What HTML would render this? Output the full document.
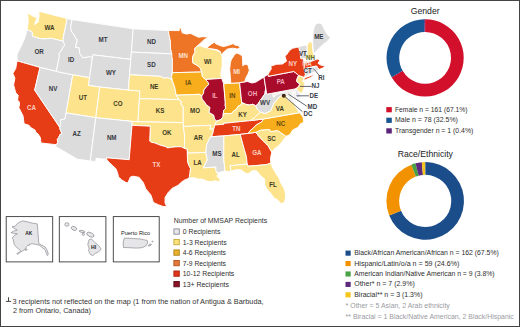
<!DOCTYPE html>
<html><head><meta charset="utf-8"><style>
html,body{margin:0;padding:0;background:#fff;}
body{width:520px;height:327px;position:relative;overflow:hidden;font-family:"Liberation Sans",sans-serif;}
svg{position:absolute;left:0;top:0;font-family:"Liberation Sans",sans-serif;}
</style></head><body>
<svg width="520" height="327" viewBox="0 0 520 327">
<g stroke="#fff" stroke-width="0.95" stroke-linejoin="round">
<path d="M27.8,12.8 L32.9,16.2 L37.1,17.8 L34.4,24.6 L38.1,22.1 L39.1,16.0 L38.8,11.2 L67.2,18.6 L63.2,37.9 L63.1,41.2 L52.3,38.6 L49.1,38.4 L44.0,38.9 L40.2,38.7 L36.0,37.5 L32.2,36.0 L32.4,32.4 L30.0,30.9 L27.1,29.6 L27.9,24.7 L28.2,21.5 L27.9,16.6Z" fill="#fce38c"/>
<path d="M27.1,29.6 L30.0,30.9 L32.4,32.4 L32.2,36.0 L36.0,37.5 L40.2,38.7 L44.0,38.9 L49.1,38.4 L52.3,38.6 L63.1,41.2 L64.8,45.0 L63.3,46.8 L61.7,50.0 L59.0,53.7 L59.4,56.2 L56.3,71.4 L40.0,67.4 L17.2,60.9 L17.0,54.4 L18.8,50.9 L22.9,42.5 L25.7,35.3Z" fill="#dcdcdd"/>
<path d="M17.2,60.9 L40.0,67.4 L34.7,90.1 L59.9,127.5 L60.0,129.1 L61.9,133.6 L59.8,134.7 L58.8,137.5 L57.3,139.6 L57.9,142.6 L56.2,144.7 L41.1,143.0 L40.7,140.8 L40.4,137.6 L38.0,133.9 L35.8,132.2 L35.0,130.0 L31.0,127.8 L29.0,125.3 L24.0,123.7 L23.6,120.0 L23.0,115.8 L18.8,107.5 L19.4,105.2 L19.5,102.4 L17.6,99.9 L18.2,95.2 L15.8,92.9 L13.6,85.0 L14.9,78.1 L12.9,73.4 L15.7,68.6 L16.8,62.4Z" fill="#e63d17"/>
<path d="M40.0,67.4 L56.3,71.4 L72.8,74.8 L65.0,119.1 L60.6,119.8 L60.5,123.7 L59.9,127.5 L34.7,90.1Z" fill="#dcdcdd"/>
<path d="M67.2,18.6 L72.1,19.6 L70.6,27.3 L71.6,31.9 L73.4,33.6 L76.2,38.9 L77.4,39.5 L75.5,47.3 L79.0,47.6 L79.8,53.7 L82.8,57.8 L90.8,56.4 L92.3,58.6 L89.5,77.7 L72.8,74.8 L56.3,71.4 L59.4,56.2 L59.0,53.7 L61.7,50.0 L63.3,46.8 L64.8,45.0 L63.1,41.2 L63.2,37.9Z" fill="#dcdcdd"/>
<path d="M72.1,19.6 L133.2,28.8 L131.4,52.1 L130.8,59.4 L92.9,54.8 L92.3,58.6 L90.8,56.4 L82.8,57.8 L79.8,53.7 L79.0,47.6 L75.5,47.3 L77.4,39.5 L76.2,38.9 L73.4,33.6 L71.6,31.9 L70.6,27.3Z" fill="#dcdcdd"/>
<path d="M92.9,54.8 L130.8,59.4 L129.6,74.7 L128.3,90.1 L99.7,87.0 L88.4,85.4 L89.5,77.7 L92.3,58.6Z" fill="#dcdcdd"/>
<path d="M72.8,74.8 L89.5,77.7 L88.4,85.4 L99.7,87.0 L95.8,117.7 L66.1,112.9Z" fill="#fce38c"/>
<path d="M99.7,87.0 L128.3,90.1 L139.9,90.9 L139.4,98.7 L138.0,121.8 L132.2,121.4 L95.8,117.7Z" fill="#fce38c"/>
<path d="M66.1,112.9 L95.8,117.7 L90.3,161.0 L77.4,159.2 L55.3,146.3 L56.2,144.7 L57.9,142.6 L57.3,139.6 L58.8,137.5 L59.8,134.7 L61.9,133.6 L60.0,129.1 L59.9,127.5 L60.5,123.7 L60.6,119.8 L65.0,119.1Z" fill="#dcdcdd"/>
<path d="M95.8,117.7 L132.2,121.4 L132.0,125.3 L129.2,159.7 L106.4,157.8 L106.8,159.5 L96.1,158.3 L95.7,161.7 L90.3,161.0Z" fill="#dcdcdd"/>
<path d="M133.2,28.8 L168.5,30.5 L168.9,34.4 L170.4,41.2 L170.6,48.9 L171.9,53.9 L131.4,52.1Z" fill="#dcdcdd"/>
<path d="M131.4,52.1 L171.9,53.9 L171.8,56.5 L172.4,58.9 L172.4,72.7 L171.5,76.5 L172.3,80.5 L169.2,78.3 L166.4,77.6 L163.6,78.2 L160.8,76.4 L129.6,74.7 L130.8,59.4Z" fill="#dcdcdd"/>
<path d="M129.6,74.7 L160.8,76.4 L163.6,78.2 L166.4,77.6 L169.2,78.3 L172.3,80.5 L173.7,84.2 L174.9,88.1 L175.6,91.9 L176.2,95.2 L178.9,99.6 L139.4,98.7 L139.9,90.9 L128.3,90.1Z" fill="#fce38c"/>
<path d="M139.4,98.7 L178.9,99.6 L181.4,101.5 L181.1,103.4 L181.7,105.7 L183.2,106.5 L183.3,122.6 L138.0,121.8Z" fill="#fce38c"/>
<path d="M132.2,121.4 L138.0,121.8 L183.3,122.6 L183.3,126.5 L184.6,134.9 L184.5,148.4 L181.2,146.8 L178.0,146.7 L174.8,146.9 L171.0,147.3 L167.8,147.9 L165.3,146.5 L162.1,145.7 L158.4,144.5 L154.7,142.9 L151.5,142.4 L149.7,141.1 L150.3,126.2 L132.0,125.3Z" fill="#fce38c"/>
<path d="M132.0,125.3 L150.3,126.2 L149.7,141.1 L151.5,142.4 L154.7,142.9 L158.4,144.5 L162.1,145.7 L165.3,146.5 L167.8,147.9 L171.0,147.3 L174.8,146.9 L178.0,146.7 L181.2,146.8 L184.5,148.4 L187.3,149.0 L187.4,153.2 L187.5,160.8 L188.5,164.6 L190.5,168.3 L190.0,173.7 L189.1,178.3 L184.7,179.9 L181.4,182.2 L178.1,185.3 L172.0,188.4 L167.9,192.9 L165.1,197.4 L165.0,202.7 L166.7,206.7 L162.9,206.4 L158.8,204.9 L153.4,202.5 L150.9,195.0 L145.7,188.7 L143.3,182.6 L139.0,177.3 L133.1,176.2 L130.4,177.0 L128.0,182.6 L126.0,182.6 L121.6,179.8 L118.5,176.9 L117.5,172.6 L115.9,168.7 L112.3,165.3 L108.7,161.9 L106.8,159.5 L106.4,157.8 L129.2,159.7Z" fill="#e63d17"/>
<path d="M168.5,30.5 L179.3,30.6 L179.3,27.7 L181.1,28.3 L182.2,32.8 L186.4,34.1 L190.6,33.4 L192.7,34.5 L198.7,37.3 L202.3,36.7 L208.7,37.1 L204.1,39.7 L199.0,44.5 L195.9,47.3 L194.9,48.1 L195.0,52.3 L192.7,56.6 L192.6,62.8 L197.1,65.3 L200.3,68.2 L201.8,72.0 L172.4,72.7 L172.4,58.9 L171.8,56.5 L171.9,53.9 L170.6,48.9 L170.4,41.2 L168.9,34.4 L168.5,30.5Z" fill="#ee7426"/>
<path d="M172.4,72.7 L201.8,72.0 L202.4,76.6 L205.5,79.5 L208.2,82.4 L208.6,84.7 L206.1,87.1 L203.9,90.0 L203.5,93.4 L201.7,96.0 L199.8,94.3 L176.2,95.2 L175.6,91.9 L174.9,88.1 L173.7,84.2 L172.3,80.5 L171.5,76.5Z" fill="#f8ae1c"/>
<path d="M176.2,95.2 L199.8,94.3 L201.7,96.0 L202.0,98.9 L204.5,101.9 L206.4,104.8 L209.9,107.3 L209.7,109.3 L209.0,112.4 L213.7,115.1 L214.5,118.9 L216.7,121.1 L214.9,125.0 L213.7,129.0 L209.7,129.2 L210.9,125.3 L183.3,126.5 L183.3,122.6 L183.2,106.5 L181.7,105.7 L181.1,103.4 L181.4,101.5 L178.9,99.6Z" fill="#fce38c"/>
<path d="M183.3,126.5 L210.9,125.3 L209.7,129.2 L213.7,129.0 L212.9,132.9 L211.8,136.0 L210.6,136.8 L208.9,140.0 L206.6,144.8 L205.9,152.4 L187.4,153.2 L187.3,149.0 L184.5,148.4 L184.6,134.9Z" fill="#fce38c"/>
<path d="M187.4,153.2 L205.9,152.4 L206.5,156.2 L207.3,160.0 L203.4,167.8 L216.0,167.0 L215.7,170.1 L217.2,173.1 L218.6,174.0 L216.7,176.1 L220.3,179.6 L219.1,181.9 L215.0,180.7 L211.7,181.7 L206.9,181.2 L202.8,179.2 L198.1,179.0 L192.7,177.5 L189.1,178.3 L190.0,173.7 L190.5,168.3 L188.5,164.6 L187.5,160.8Z" fill="#fce38c"/>
<path d="M205.5,79.5 L221.7,78.4 L220.8,74.5 L221.5,69.1 L222.3,65.2 L222.1,60.0 L222.1,56.5 L221.7,54.7 L220.3,51.9 L216.5,50.4 L212.9,49.4 L209.5,48.6 L207.3,47.9 L204.7,47.6 L200.1,45.7 L196.5,46.6 L195.9,47.3 L194.9,48.1 L195.0,52.3 L192.7,56.6 L192.6,62.8 L197.1,65.3 L200.3,68.2 L201.8,72.0 L202.4,76.6 L205.5,79.5Z" fill="#fce38c"/>
<path d="M205.5,79.5 L221.7,78.4 L223.7,83.8 L225.3,102.3 L225.2,105.8 L225.9,108.0 L223.7,110.5 L223.2,114.4 L223.0,116.7 L221.0,119.6 L216.7,121.1 L214.5,118.9 L213.7,115.1 L209.0,112.4 L209.7,109.3 L209.9,107.3 L206.4,104.8 L204.5,101.9 L202.0,98.9 L201.7,96.0 L203.5,93.4 L203.9,90.0 L206.1,87.1 L208.6,84.7 L208.2,82.4 L205.5,79.5Z" fill="#a90b2b"/>
<path d="M223.7,83.8 L227.8,83.5 L239.6,82.7 L241.7,102.5 L241.4,104.8 L238.5,105.9 L236.4,109.3 L233.5,111.1 L231.9,113.2 L228.9,113.9 L225.8,113.4 L223.2,114.4 L223.7,110.5 L225.9,108.0 L225.2,105.8 L225.3,102.3Z" fill="#f8ae1c"/>
<path d="M239.6,82.7 L247.4,81.5 L252.0,83.0 L256.0,82.1 L259.2,80.0 L264.0,77.1 L265.6,87.3 L265.5,89.9 L264.9,93.9 L261.9,98.2 L259.9,100.9 L257.9,104.2 L255.7,105.9 L253.0,104.2 L249.4,105.0 L245.7,104.3 L241.7,102.5Z" fill="#a90b2b"/>
<path d="M236.2,53.0 L239.0,53.8 L242.2,55.8 L242.6,60.0 L242.8,65.8 L244.5,64.6 L246.4,64.3 L248.1,65.4 L249.3,70.3 L248.4,73.0 L247.6,74.8 L246.0,77.5 L245.4,79.5 L245.0,81.7 L239.6,82.7 L230.8,83.3 L230.3,76.8 L229.7,69.3 L230.3,62.8 L231.4,59.6 L234.0,55.4Z" fill="#ee7426"/>
<path d="M207.4,47.2 L211.2,44.2 L214.3,42.3 L216.0,43.8 L219.9,45.5 L223.4,46.6 L228.5,45.3 L233.3,43.6 L234.6,45.0 L238.1,45.4 L240.3,48.1 L237.2,49.0 L232.9,48.2 L227.7,49.0 L225.1,50.7 L222.5,53.3 L221.6,55.5 L220.3,51.6 L217.3,49.8 L213.0,49.0 L208.7,48.5Z" fill="#ee7426"/>
<path d="M216.7,121.1 L214.9,125.0 L223.9,124.3 L223.7,123.0 L225.0,123.2 L250.8,120.6 L254.7,117.4 L257.5,114.7 L260.4,112.1 L257.3,109.0 L255.7,105.9 L255.7,105.9 L253.0,104.2 L249.4,105.0 L245.7,104.3 L241.7,102.5 L241.4,104.8 L238.5,105.9 L236.4,109.3 L233.5,111.1 L231.9,113.2 L228.9,113.9 L225.8,113.4 L223.2,114.4 L223.0,116.7 L221.0,119.6 L216.7,121.1Z" fill="#fce38c"/>
<path d="M210.6,136.8 L223.8,135.9 L240.2,134.4 L248.3,133.4 L250.0,130.8 L252.9,128.5 L256.3,124.9 L259.3,123.3 L262.2,121.4 L263.2,119.0 L250.8,120.6 L225.0,123.2 L223.7,123.0 L223.9,124.3 L214.9,125.0 L213.7,129.0 L212.9,132.9 L211.8,136.0Z" fill="#e63d17"/>
<path d="M210.6,136.8 L208.9,140.0 L206.6,144.8 L205.9,152.4 L206.5,156.2 L207.3,160.0 L203.4,167.8 L216.0,167.0 L215.7,170.1 L217.2,173.1 L225.1,170.9 L223.8,159.5 L223.9,136.6 L223.8,135.9Z" fill="#dcdcdd"/>
<path d="M223.8,135.9 L240.2,134.4 L244.4,149.8 L246.4,156.5 L247.2,164.0 L230.1,165.8 L231.2,171.0 L227.9,171.7 L225.1,170.9 L223.8,159.5 L223.9,136.6Z" fill="#fce38c"/>
<path d="M240.2,134.4 L248.3,133.4 L256.0,132.3 L258.4,135.8 L262.9,140.5 L268.2,145.8 L271.8,152.2 L270.6,157.7 L270.7,163.1 L267.5,164.3 L266.2,164.7 L248.2,166.2 L247.2,164.0 L246.4,156.5 L244.4,149.8Z" fill="#e63d17"/>
<path d="M230.1,165.8 L247.2,164.0 L248.2,166.2 L266.2,164.7 L267.5,164.3 L270.7,163.1 L272.8,168.1 L275.6,172.9 L279.2,178.4 L280.4,182.0 L284.3,188.9 L285.2,192.5 L285.7,197.7 L284.3,202.4 L280.8,203.7 L278.2,200.4 L273.5,197.4 L270.8,193.3 L266.6,188.7 L264.7,184.4 L264.7,179.1 L260.8,175.9 L256.8,171.1 L252.7,170.5 L248.3,173.7 L245.5,173.3 L241.1,170.0 L237.7,169.6 L231.2,171.0Z" fill="#fce38c"/>
<path d="M256.0,132.3 L258.4,135.8 L262.9,140.5 L268.2,145.8 L271.8,152.2 L274.6,148.7 L278.8,145.7 L282.7,141.1 L286.2,136.3 L277.6,130.5 L270.7,131.6 L269.7,129.5 L260.8,130.0 L256.0,132.3Z" fill="#fce38c"/>
<path d="M248.3,133.4 L256.0,132.3 L260.8,130.0 L269.7,129.5 L270.7,131.6 L277.6,130.5 L286.2,136.3 L290.1,134.4 L292.6,130.0 L298.0,127.4 L300.5,123.8 L303.8,122.3 L303.1,117.1 L299.6,112.7 L263.2,119.0 L262.2,121.4 L259.3,123.3 L256.3,124.9 L252.9,128.5 L250.0,130.8Z" fill="#f8ae1c"/>
<path d="M299.1,112.8 L263.2,119.0 L250.8,120.6 L254.7,117.4 L257.5,114.7 L260.4,112.1 L260.4,112.1 L265.4,113.5 L270.6,110.8 L272.0,107.5 L273.8,103.3 L276.9,99.6 L279.5,96.8 L283.9,94.3 L285.5,96.1 L288.2,96.8 L288.0,99.1 L289.6,101.1 L294.3,102.5 L295.1,106.3 L297.6,109.6 L297.8,110.4Z" fill="#fce38c"/>
<path d="M265.6,87.3 L266.7,94.2 L272.9,93.2 L273.5,97.1 L276.1,94.7 L279.4,93.0 L283.0,92.3 L283.9,94.3 L279.5,96.8 L276.9,99.6 L273.8,103.3 L272.0,107.5 L270.6,110.8 L265.4,113.5 L260.4,112.1 L257.3,109.0 L255.7,105.9 L257.9,104.2 L259.9,100.9 L261.9,98.2 L264.9,93.9 L265.5,89.9Z" fill="#dcdcdd"/>
<path d="M272.9,93.2 L294.7,89.0 L296.7,98.5 L301.1,97.6 L300.7,101.2 L298.3,102.1 L295.7,99.9 L293.7,96.4 L293.2,91.1 L291.7,96.1 L293.2,100.4 L294.3,102.5 L289.6,101.1 L288.0,99.1 L288.2,96.8 L285.5,96.1 L283.9,94.3 L283.0,92.3 L279.4,93.0 L276.1,94.7 L273.5,97.1Z" fill="#f0eee6"/>
<path d="M294.7,89.0 L296.9,88.0 L296.6,89.6 L300.6,95.0 L301.1,97.6 L296.7,98.5Z" fill="#e4e6ec"/>
<path d="M264.0,77.0 L268.0,74.2 L268.4,76.3 L293.7,71.5 L295.5,72.7 L298.5,75.4 L296.9,79.4 L296.8,81.7 L300.1,84.2 L298.4,86.5 L296.9,88.0 L294.7,89.0 L266.7,94.2Z" fill="#a90b2b"/>
<path d="M298.5,75.4 L303.7,77.1 L303.7,79.5 L302.5,81.3 L304.2,81.7 L304.5,84.7 L303.9,88.8 L301.3,93.8 L296.6,89.6 L296.9,88.0 L298.4,86.5 L300.1,84.2 L296.8,81.7 L296.9,79.4Z" fill="#fce38c"/>
<path d="M268.4,76.3 L293.7,71.5 L295.5,72.7 L298.5,75.4 L303.7,77.1 L304.9,76.8 L305.0,76.0 L305.5,74.3 L304.2,68.7 L304.4,63.2 L302.6,57.0 L301.4,54.1 L299.9,46.6 L292.5,48.3 L289.5,50.5 L286.4,55.0 L284.9,56.1 L286.5,61.2 L282.4,64.0 L276.6,64.3 L270.8,66.1 L271.3,68.8 L268.0,74.2Z" fill="#e63d17"/>
<path d="M303.8,80.2 L305.0,79.9 L310.6,77.5 L315.2,74.0 L312.4,75.0 L306.2,77.3 L304.1,78.6Z" fill="#e63d17"/>
<path d="M298.4,46.6 L303.0,45.6 L307.2,45.0 L307.2,52.0 L307.0,58.4 L300.8,58.8 L300.2,53.0 L299.0,48.5Z" fill="#dcdcdd"/>
<path d="M309.0,42.2 L310.4,41.4 L312.5,44.0 L312.8,50.0 L313.6,54.5 L314.2,57.6 L311.5,58.3 L307.0,58.4 L307.2,52.0 L307.2,45.0Z" fill="#fce38c"/>
<path d="M313.6,54.0 L312.8,45.0 L312.5,38.0 L313.3,31.0 L314.2,27.0 L316.0,23.8 L318.2,23.0 L321.3,23.4 L323.3,27.0 L325.5,31.5 L327.5,34.5 L330.6,37.8 L327.0,41.6 L323.0,44.5 L319.8,47.8 L316.5,50.8Z" fill="#dcdcdd"/>
<path d="M304.2,68.7 L304.4,63.2 L308.9,62.3 L316.9,59.2 L318.1,58.9 L319.7,60.6 L318.0,63.4 L320.9,65.1 L324.8,66.0 L324.2,63.8 L325.2,66.3 L322.4,68.2 L319.0,69.5 L316.4,66.0 L314.0,66.6Z" fill="#e63d17"/>
<path d="M314.0,66.6 L316.4,66.0 L319.0,69.5 L315.0,71.8Z" fill="#dcdcdd"/>
<path d="M304.2,68.7 L314.0,66.6 L315.0,71.8 L311.4,73.2 L308.1,74.9 L305.2,76.8 L305.0,76.0 L305.5,74.3Z" fill="#dcdcdd"/>
</g>
<text x="410.8" y="14.4" font-size="9" fill="#222" textLength="28.8" lengthAdjust="spacingAndGlyphs">Gender</text>
<path d="M425.10,19.25 A38.6,38.6 0 1 1 391.67,77.15 L402.67,70.80 A25.9,25.9 0 1 0 425.10,31.95Z" fill="#d2102c"/>
<path d="M391.67,77.15 A38.6,38.6 0 0 1 424.09,19.26 L424.42,31.96 A25.9,25.9 0 0 0 402.67,70.80Z" fill="#1a5593"/>
<path d="M424.09,19.26 A38.6,38.6 0 0 1 425.10,19.25 L425.10,31.95 A25.9,25.9 0 0 0 424.42,31.96Z" fill="#5b2379"/>
<rect x="386.3" y="107.10" width="5.5" height="5.2" fill="#d2102c"/>
<text x="395" y="111.7" font-size="6.9" fill="#2e2e2e" textLength="72.5" lengthAdjust="spacingAndGlyphs">Female n = 161 (67.1%)</text>
<rect x="386.3" y="117.70" width="5.5" height="5.2" fill="#1a5593"/>
<text x="395" y="122.3" font-size="6.9" fill="#2e2e2e" textLength="62.9" lengthAdjust="spacingAndGlyphs">Male n = 78 (32.5%)</text>
<rect x="386.3" y="128.30" width="5.5" height="5.2" fill="#5b2379"/>
<text x="395" y="132.9" font-size="6.9" fill="#2e2e2e" textLength="78.3" lengthAdjust="spacingAndGlyphs">Transgender n = 1 (0.4%)</text>
<text x="397.7" y="157.2" font-size="9" fill="#222" textLength="55.2" lengthAdjust="spacingAndGlyphs">Race/Ethnicity</text>
<path d="M425.88,162.11 A38.8,38.8 0 1 1 389.23,215.43 L401.00,210.68 A26.1,26.1 0 1 0 425.66,174.80Z" fill="#1b4d8a"/>
<path d="M389.23,215.43 A38.8,38.8 0 0 1 411.30,164.68 L415.85,176.53 A26.1,26.1 0 0 0 401.00,210.68Z" fill="#f39200"/>
<path d="M411.30,164.68 A38.8,38.8 0 0 1 415.49,163.34 L418.67,175.63 A26.1,26.1 0 0 0 415.85,176.53Z" fill="#4ba146"/>
<path d="M415.49,163.34 A38.8,38.8 0 0 1 421.82,162.25 L422.93,174.90 A26.1,26.1 0 0 0 418.67,175.63Z" fill="#5e2a7e"/>
<path d="M421.82,162.25 A38.8,38.8 0 0 1 425.20,162.10 L425.20,174.80 A26.1,26.1 0 0 0 422.93,174.90Z" fill="#f6c51b"/>
<path d="M425.20,162.10 A38.8,38.8 0 0 1 425.88,162.11 L425.66,174.80 A26.1,26.1 0 0 0 425.20,174.80Z" fill="#1b4d8a"/>
<rect x="345.5" y="250.60" width="5.2" height="5.1" fill="#1b4d8a"/>
<text x="354.2" y="255.2" font-size="6.9" fill="#2e2e2e" textLength="144.6" lengthAdjust="spacingAndGlyphs">Black/African American/African n = 162 (67.5%)</text>
<rect x="345.5" y="261.02" width="5.2" height="5.1" fill="#f39200"/>
<text x="354.2" y="265.62" font-size="6.9" fill="#2e2e2e" textLength="105.2" lengthAdjust="spacingAndGlyphs">Hispanic/Latin/o/a n = 59 (24.6%)</text>
<rect x="345.5" y="271.44" width="5.2" height="5.1" fill="#4ba146"/>
<text x="354.2" y="276.04" font-size="6.9" fill="#2e2e2e" textLength="140.4" lengthAdjust="spacingAndGlyphs">American Indian/Native American n = 9 (3.8%)</text>
<rect x="345.5" y="281.86" width="5.2" height="5.1" fill="#5e2a7e"/>
<text x="354.2" y="286.46" font-size="6.9" fill="#2e2e2e" textLength="60.6" lengthAdjust="spacingAndGlyphs">Other* n = 7 (2.9%)</text>
<rect x="345.5" y="292.28" width="5.2" height="5.1" fill="#f6c51b"/>
<text x="354.2" y="296.88" font-size="6.9" fill="#2e2e2e" textLength="68.3" lengthAdjust="spacingAndGlyphs">Biracial** n = 3 (1.3%)</text>
<text x="345.6" y="307.9" font-size="6.9" fill="#9a9aa2" textLength="104.2" lengthAdjust="spacingAndGlyphs">* Other = 5 Asian, 2 Arab ethnicity</text>
<text x="345.6" y="318.5" font-size="6.9" fill="#9a9aa2" textLength="168.2" lengthAdjust="spacingAndGlyphs">** Biracial = 1 Black/Native American, 2 Black/Hispanic</text>
<text x="173.8" y="223" font-size="6.9" fill="#333" textLength="93.3" lengthAdjust="spacingAndGlyphs">Number of MMSAP Recipients</text>
<rect x="173.9" y="228.90" width="5.4" height="5.3" fill="#e6e6ec" stroke="#8a8a94" stroke-width="0.9"/>
<text x="182.8" y="234.0" font-size="6.9" fill="#2e2e2e" textLength="37.5" lengthAdjust="spacingAndGlyphs">0 Recipients</text>
<rect x="173.9" y="239.42" width="5.4" height="5.3" fill="#fae07a" stroke="#c9a83a" stroke-width="0.9"/>
<text x="182.8" y="244.52" font-size="6.9" fill="#2e2e2e" textLength="43.8" lengthAdjust="spacingAndGlyphs">1-3 Recipients</text>
<rect x="173.9" y="249.94" width="5.4" height="5.3" fill="#e9b22c" stroke="#b07e1a" stroke-width="0.9"/>
<text x="182.8" y="255.04" font-size="6.9" fill="#2e2e2e" textLength="43.1" lengthAdjust="spacingAndGlyphs">4-6 Recipients</text>
<rect x="173.9" y="260.46" width="5.4" height="5.3" fill="#e6793a" stroke="#b05420" stroke-width="0.9"/>
<text x="182.8" y="265.56" font-size="6.9" fill="#2e2e2e" textLength="43.1" lengthAdjust="spacingAndGlyphs">7-9 Recipients</text>
<rect x="173.9" y="270.98" width="5.4" height="5.3" fill="#e0351c" stroke="#a82410" stroke-width="0.9"/>
<text x="182.8" y="276.08" font-size="6.9" fill="#2e2e2e" textLength="51.5" lengthAdjust="spacingAndGlyphs">10-12 Recipients</text>
<rect x="173.9" y="281.50" width="5.4" height="5.3" fill="#8c1426" stroke="#5a0a16" stroke-width="0.9"/>
<text x="182.8" y="286.6" font-size="6.9" fill="#2e2e2e" textLength="46.1" lengthAdjust="spacingAndGlyphs">13+ Recipients</text>
<path d="M8.5,297.2 V301.4 M5.9,301.4 H11.1" stroke="#333" stroke-width="0.9" fill="none"/>
<text x="12.4" y="303.7" font-size="7.3" fill="#333" textLength="251.2" lengthAdjust="spacingAndGlyphs">3 recipients not reflected on the map (1 from the nation of Antigua &amp; Barbuda,</text>
<text x="12.9" y="312.5" font-size="7.3" fill="#333" textLength="78" lengthAdjust="spacingAndGlyphs">2 from Ontario, Canada)</text>
<rect x="6.2" y="216.6" width="46.5" height="45.3" fill="none" stroke="#3a3a3a" stroke-width="0.9"/>
<rect x="59.3" y="216.6" width="46.6" height="45.3" fill="none" stroke="#3a3a3a" stroke-width="0.9"/>
<rect x="113.3" y="216.6" width="45.9" height="45.3" fill="none" stroke="#3a3a3a" stroke-width="0.9"/>
<path d="M12.0,226.8 L15.3,226.1 L16.1,225.0 L18.3,222.8 L22.7,220.9 L27.1,221.7 L32.2,223.1 L37.3,223.9 L38.8,243.5 L41.8,245.3 L45.2,247.0 L47.3,250.4 L48.3,254.2 L47.4,255.6 L46.3,253.2 L45.1,249.8 L42.3,247.6 L39.3,245.2 L35.5,244.3 L32.5,243.8 L29.5,244.2 L29.2,245.5 L28.0,245.0 L26.3,246.8 L25.2,249.2 L22.5,251.0 L19.8,252.6 L17.4,254.4 L16.8,253.6 L18.4,252.8 L20.8,251.0 L19.6,249.6 L16.5,247.3 L14.3,244.6 L13.1,239.4 L12.4,237.8 L14.2,235.5 L17.5,233.8 L13.8,233.3 L10.9,232.7 L13.5,231.2 L17.2,230.1 L14.5,228.5Z" fill="#e6e6e8" stroke="#85858c" stroke-width="0.65" stroke-linejoin="round"/>
<ellipse cx="26" cy="249.6" rx="1.1" ry="0.8" fill="#e6e6e8" stroke="#85858c" stroke-width="0.65" stroke-linejoin="round"/>
<text x="28.7" y="234.6" font-size="6" fill="#222" textLength="7" lengthAdjust="spacingAndGlyphs" text-anchor="middle" font-weight="bold">AK</text>
<g fill="#e6e6e8" stroke="#85858c" stroke-width="0.65" stroke-linejoin="round"><ellipse cx="66.9" cy="224.5" rx="2.1" ry="1.8"/><ellipse cx="74" cy="228.4" rx="2.9" ry="1.8" transform="rotate(25 74 228.4)"/><ellipse cx="82.1" cy="231.5" rx="3" ry="1" transform="rotate(12 82.1 231.5)"/><ellipse cx="83.3" cy="234.3" rx="1.1" ry="1.1"/><ellipse cx="90.4" cy="234.7" rx="3.9" ry="2" transform="rotate(25 90.4 234.7)"/><path d="M89.1,239.7 L91.4,238.9 L95.0,242.6 L98.7,245.6 L101.1,248.9 L98.7,251.8 L95.0,253.6 L92.8,255.7 L90.3,254.4 L88.6,250.7 L89.1,248.1 L87.8,244.8 L88.4,241.9Z"/></g>
<text x="93.6" y="249.2" font-size="6" fill="#222" textLength="5.1" lengthAdjust="spacingAndGlyphs" text-anchor="middle" font-weight="bold">HI</text>
<text x="120.9" y="234.6" font-size="5.8" fill="#222" textLength="29.3" lengthAdjust="spacingAndGlyphs">Puerto Rico</text>
<path d="M124.2,238.2 L129.0,238.2 L134.0,238.6 L139.9,238.9 L143.6,239.7 L147.2,240.4 L147.6,243.0 L145.8,245.9 L142.1,247.7 L136.3,248.1 L129.0,247.7 L123.5,247.5 L123.1,243.0Z" fill="#e6e6e8" stroke="#85858c" stroke-width="0.65" stroke-linejoin="round"/>
<ellipse cx="149.8" cy="245" rx="1.7" ry="0.7" transform="rotate(-25 149.8 245)" fill="#e6e6e8" stroke="#85858c" stroke-width="0.65" stroke-linejoin="round"/><ellipse cx="152.4" cy="241.5" rx="0.6" ry="0.5" fill="#e6e6e8" stroke="#85858c" stroke-width="0.65" stroke-linejoin="round"/>
<text x="49.4" y="30.0" font-size="7.1" fill="#3d3a22" textLength="9.99" lengthAdjust="spacingAndGlyphs" text-anchor="middle" font-weight="bold">WA</text>
<text x="39.2" y="53.8" font-size="7.1" fill="#35373d" textLength="9.3" lengthAdjust="spacingAndGlyphs" text-anchor="middle" font-weight="bold">OR</text>
<text x="71.1" y="61.5" font-size="7.1" fill="#35373d" textLength="6.2" lengthAdjust="spacingAndGlyphs" text-anchor="middle" font-weight="bold">ID</text>
<text x="103" y="41.5" font-size="7.1" fill="#35373d" textLength="8.95" lengthAdjust="spacingAndGlyphs" text-anchor="middle" font-weight="bold">MT</text>
<text x="151.5" y="44.2" font-size="7.1" fill="#35373d" textLength="8.96" lengthAdjust="spacingAndGlyphs" text-anchor="middle" font-weight="bold">ND</text>
<text x="151.4" y="67.0" font-size="7.1" fill="#35373d" textLength="8.61" lengthAdjust="spacingAndGlyphs" text-anchor="middle" font-weight="bold">SD</text>
<text x="111" y="74.8" font-size="7.1" fill="#35373d" textLength="9.99" lengthAdjust="spacingAndGlyphs" text-anchor="middle" font-weight="bold">WY</text>
<text x="53" y="91.4" font-size="7.1" fill="#35373d" textLength="8.61" lengthAdjust="spacingAndGlyphs" text-anchor="middle" font-weight="bold">NV</text>
<text x="31.6" y="110.4" font-size="7.1" fill="#fcd0c0" textLength="8.96" lengthAdjust="spacingAndGlyphs" text-anchor="middle" font-weight="bold">CA</text>
<text x="83" y="99.9" font-size="7.1" fill="#3d3a22" textLength="8.26" lengthAdjust="spacingAndGlyphs" text-anchor="middle" font-weight="bold">UT</text>
<text x="118" y="105.8" font-size="7.1" fill="#3d3a22" textLength="9.3" lengthAdjust="spacingAndGlyphs" text-anchor="middle" font-weight="bold">CO</text>
<text x="76.6" y="136.4" font-size="7.1" fill="#35373d" textLength="8.26" lengthAdjust="spacingAndGlyphs" text-anchor="middle" font-weight="bold">AZ</text>
<text x="111.7" y="139.7" font-size="7.1" fill="#35373d" textLength="9.64" lengthAdjust="spacingAndGlyphs" text-anchor="middle" font-weight="bold">NM</text>
<text x="154.2" y="88.5" font-size="7.1" fill="#3d3a22" textLength="8.61" lengthAdjust="spacingAndGlyphs" text-anchor="middle" font-weight="bold">NE</text>
<text x="160" y="113" font-size="7.1" fill="#3d3a22" textLength="8.61" lengthAdjust="spacingAndGlyphs" text-anchor="middle" font-weight="bold">KS</text>
<text x="166.8" y="134.6" font-size="7.1" fill="#3d3a22" textLength="9.3" lengthAdjust="spacingAndGlyphs" text-anchor="middle" font-weight="bold">OK</text>
<text x="156.5" y="166.8" font-size="7.1" fill="#fcd0c0" textLength="7.92" lengthAdjust="spacingAndGlyphs" text-anchor="middle" font-weight="bold">TX</text>
<text x="183.2" y="58.3" font-size="7.1" fill="#fde0cc" textLength="9.64" lengthAdjust="spacingAndGlyphs" text-anchor="middle" font-weight="bold">MN</text>
<text x="188.4" y="84.5" font-size="7.1" fill="#6a4a0c" textLength="6.2" lengthAdjust="spacingAndGlyphs" text-anchor="middle" font-weight="bold">IA</text>
<text x="207.8" y="64.4" font-size="7.1" fill="#3d3a22" textLength="7.57" lengthAdjust="spacingAndGlyphs" text-anchor="middle" font-weight="bold">WI</text>
<text x="236.6" y="73.8" font-size="7.1" fill="#fde0cc" textLength="6.89" lengthAdjust="spacingAndGlyphs" text-anchor="middle" font-weight="bold">MI</text>
<text x="214.9" y="97.8" font-size="7.1" fill="#f4a9b9" textLength="5.51" lengthAdjust="spacingAndGlyphs" text-anchor="middle" font-weight="bold">IL</text>
<text x="232.4" y="98.2" font-size="7.1" fill="#6a4a0c" textLength="6.2" lengthAdjust="spacingAndGlyphs" text-anchor="middle" font-weight="bold">IN</text>
<text x="252.5" y="96.3" font-size="7.1" fill="#f4a9b9" textLength="9.3" lengthAdjust="spacingAndGlyphs" text-anchor="middle" font-weight="bold">OH</text>
<text x="195" y="112.6" font-size="7.1" fill="#3d3a22" textLength="9.99" lengthAdjust="spacingAndGlyphs" text-anchor="middle" font-weight="bold">MO</text>
<text x="242.6" y="116.6" font-size="7.1" fill="#3d3a22" textLength="8.61" lengthAdjust="spacingAndGlyphs" text-anchor="middle" font-weight="bold">KY</text>
<text x="236.3" y="131" font-size="7.1" fill="#fcd0c0" textLength="8.26" lengthAdjust="spacingAndGlyphs" text-anchor="middle" font-weight="bold">TN</text>
<text x="198.3" y="140.2" font-size="7.1" fill="#3d3a22" textLength="8.96" lengthAdjust="spacingAndGlyphs" text-anchor="middle" font-weight="bold">AR</text>
<text x="197.6" y="164.7" font-size="7.1" fill="#3d3a22" textLength="8.26" lengthAdjust="spacingAndGlyphs" text-anchor="middle" font-weight="bold">LA</text>
<text x="217" y="155.9" font-size="7.1" fill="#35373d" textLength="9.3" lengthAdjust="spacingAndGlyphs" text-anchor="middle" font-weight="bold">MS</text>
<text x="235.7" y="156.7" font-size="7.1" fill="#3d3a22" textLength="8.26" lengthAdjust="spacingAndGlyphs" text-anchor="middle" font-weight="bold">AL</text>
<text x="256.9" y="154.6" font-size="7.1" fill="#fcd0c0" textLength="9.3" lengthAdjust="spacingAndGlyphs" text-anchor="middle" font-weight="bold">GA</text>
<text x="271.5" y="141.3" font-size="7.1" fill="#3d3a22" textLength="8.61" lengthAdjust="spacingAndGlyphs" text-anchor="middle" font-weight="bold">SC</text>
<text x="273.1" y="186.8" font-size="7.1" fill="#3d3a22" textLength="7.57" lengthAdjust="spacingAndGlyphs" text-anchor="middle" font-weight="bold">FL</text>
<text x="280.7" y="125.8" font-size="7.1" fill="#6a4a0c" textLength="8.96" lengthAdjust="spacingAndGlyphs" text-anchor="middle" font-weight="bold">NC</text>
<text x="279.9" y="110.9" font-size="7.1" fill="#3d3a22" textLength="8.15" lengthAdjust="spacingAndGlyphs" text-anchor="middle" font-weight="bold">VA</text>
<text x="265.1" y="105.3" font-size="7.1" fill="#35373d" textLength="9.99" lengthAdjust="spacingAndGlyphs" text-anchor="middle" font-weight="bold">WV</text>
<text x="280.7" y="84.1" font-size="7.1" fill="#f4a9b9" textLength="8.15" lengthAdjust="spacingAndGlyphs" text-anchor="middle" font-weight="bold">PA</text>
<text x="292.8" y="65.8" font-size="7.1" fill="#fcd0c0" textLength="8.61" lengthAdjust="spacingAndGlyphs" text-anchor="middle" font-weight="bold">NY</text>
<text x="302.9" y="55.8" font-size="7.1" fill="#35373d" textLength="7.92" lengthAdjust="spacingAndGlyphs" text-anchor="middle" font-weight="bold">VT</text>
<text x="310.5" y="59.8" font-size="7.1" fill="#5a6a1a" textLength="8.96" lengthAdjust="spacingAndGlyphs" text-anchor="middle" font-weight="bold">NH</text>
<text x="318.8" y="38.6" font-size="7.1" fill="#35373d" textLength="9.3" lengthAdjust="spacingAndGlyphs" text-anchor="middle" font-weight="bold">ME</text>
<text x="307" y="65.6" font-size="7.1" fill="#fcd0c0" textLength="9.64" lengthAdjust="spacingAndGlyphs" text-anchor="middle" font-weight="bold">MA</text>
<text x="307.6" y="72.6" font-size="7.1" fill="#35373d" textLength="8.26" lengthAdjust="spacingAndGlyphs" text-anchor="middle" font-weight="bold">CT</text>
<text x="321.3" y="79.9" font-size="7.1" fill="#363c48" textLength="6.2" lengthAdjust="spacingAndGlyphs" text-anchor="middle" font-weight="bold">RI</text>
<text x="315.4" y="88.3" font-size="7.1" fill="#363c48" textLength="7.93" lengthAdjust="spacingAndGlyphs" text-anchor="middle" font-weight="bold">NJ</text>
<text x="313.9" y="98.4" font-size="7.1" fill="#363c48" textLength="8.61" lengthAdjust="spacingAndGlyphs" text-anchor="middle" font-weight="bold">DE</text>
<text x="312.4" y="109.4" font-size="7.1" fill="#363c48" textLength="9.64" lengthAdjust="spacingAndGlyphs" text-anchor="middle" font-weight="bold">MD</text>
<text x="307.9" y="115.6" font-size="7.1" fill="#363c48" textLength="8.96" lengthAdjust="spacingAndGlyphs" text-anchor="middle" font-weight="bold">DC</text>
<g stroke="#3c4250" stroke-width="0.8" fill="none"><path d="M313.5,68.5 L318.8,74.9"/><path d="M299.9,86.4 H311.5"/><path d="M296.4,95.8 H308.9"/><path d="M288.4,94.2 L306.8,106.2"/><path d="M283.8,95.7 L302.4,111.6"/></g>
<circle cx="283.8" cy="95.7" r="2" fill="#3f2410"/>
<rect x="0.5" y="0.5" width="519" height="326" fill="none" stroke="#444" stroke-width="1"/>
</svg>
</body></html>
